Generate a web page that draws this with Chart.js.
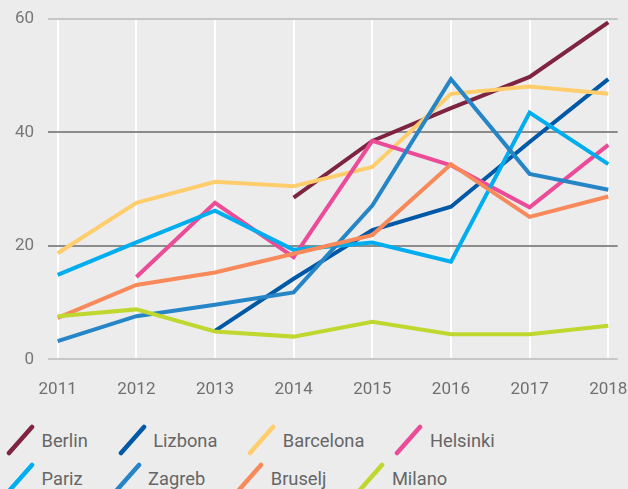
<!DOCTYPE html>
<html>
<head>
<meta charset="utf-8">
<script src="https://cdn.jsdelivr.net/npm/chart.js@4/dist/chart.umd.min.js"></script>
<style>
  html, body { margin: 0; padding: 0; background: #ececec; }
  body { width: 628px; height: 489px; position: relative; overflow: hidden; font-family: Roboto, sans-serif; }
  #chart-box { position: absolute; left: 0; top: 0; width: 628px; height: 400px; }
  #legend { position: absolute; left: 6px; top: 421px; }
  .row { display: flex; align-items: center; height: 38px; }
  .item { display: flex; align-items: center; margin-right: 30px; font-size: 18.3px; color: #666; }
  .item svg { margin-right: 5.5px; }
</style>
</head>
<body>
<div id="chart-box"><canvas id="my-chart"></canvas></div>
<div id="legend"></div>
<script>
'use strict';

let years = [2011, 2012, 2013, 2014, 2015, 2016, 2017, 2018];
let yTicks = [0, 20, 40, 60];

let cityNames = ['Berlin', 'Lizbona', 'Barcelona', 'Helsinki', 'Pariz', 'Zagreb', 'Bruselj', 'Milano'];

let berlin = [null, null, null, 28.5, 38.5, 44.3, 49.8, 59.4];
let lizbona = [null, null, 5.0, 14.2, 22.8, 26.9, 38.3, 49.4];
let barcelona = [18.7, 27.6, 31.3, 30.5, 33.9, 46.8, 48.1, 46.8];
let helsinki = [null, 14.5, 27.6, 18.0, 38.5, 34.2, 26.8, 37.8];
let pariz = [14.9, 20.6, 26.2, 19.3, 20.6, 17.2, 43.5, 34.4];
let zagreb = [3.2, 7.6, 9.6, 11.8, 27.1, 49.4, 32.7, 29.9];
let bruselj = [7.3, 13.1, 15.3, 18.6, 21.9, 34.4, 25.1, 28.7];
let milano = [7.6, 8.8, 4.9, 4.0, 6.6, 4.4, 4.4, 5.9];

let cityValues = [berlin, lizbona, barcelona, helsinki, pariz, zagreb, bruselj, milano];
let cityColors = ['#7e2440', '#0058a6', '#ffcd6c', '#ec4b98', '#00aeef', '#2585c7', '#f7895b', '#c0d72f'];

let datasets = [];
for (let i = 0; i < cityNames.length; i++) {
  datasets.push({
    label: cityNames[i],
    data: cityValues[i].map((v, j) => ({ x: years[j], y: v })),
    borderColor: cityColors[i],
    backgroundColor: cityColors[i],
    borderWidth: 4,
    pointRadius: 0,
    tension: 0,
    fill: false,
    // later cities sit on top
    order: cityNames.length - i
  });
}

let canvasElem = document.getElementById('my-chart');

let myObj = {
  type: 'line',
  data: { datasets: datasets },
  options: {
    responsive: true,
    maintainAspectRatio: false,
    animation: false,
    devicePixelRatio: 1,
    layout: { padding: { top: 19, right: 10.3, bottom: 0, left: 0 } },
    plugins: {
      legend: { display: false },
      tooltip: { enabled: false }
    },
    scales: {
      x: {
        type: 'linear',
        min: 2010.877,
        max: 2018.12,
        afterBuildTicks: (scale) => {
          scale.ticks = years.map(y => ({ value: y }));
        },
        afterFit: (scale) => {
          scale.height = 40.7;
          scale.paddingLeft = 0;
          scale.paddingRight = 0;
        },
        border: { display: false },
        grid: { color: '#ffffff', lineWidth: 2, drawTicks: false },
        ticks: {
          autoSkip: false,
          maxRotation: 0,
          padding: 20,
          color: '#707070',
          font: { family: 'Roboto', size: 17 },
          callback: (value) => String(value)
        }
      },
      y: {
        min: 0,
        max: 60,
        afterBuildTicks: (scale) => {
          scale.ticks = yTicks.map(v => ({ value: v }));
        },
        afterFit: (scale) => {
          scale.width = 48;
          scale.paddingTop = 0;
          scale.paddingBottom = 0;
        },
        border: { display: false },
        grid: {
          drawTicks: false,
          lineWidth: 2,
          color: (ctx) => (ctx.tick && (ctx.tick.value === 20 || ctx.tick.value === 40)) ? '#8c8c8c' : '#c6c6c6'
        },
        ticks: {
          padding: 14,
          color: '#777777',
          font: { family: 'Roboto', size: 17 }
        }
      }
    }
  }
};

new Chart(canvasElem, myObj);

// legend: two rows of four, slanted stroke + name
let legendElem = document.getElementById('legend');
for (let r = 0; r < 2; r++) {
  let rowElem = document.createElement('div');
  rowElem.className = 'row';
  for (let i = r * 4; i < r * 4 + 4; i++) {
    let itemElem = document.createElement('div');
    itemElem.className = 'item';
    itemElem.innerHTML =
      `<svg width="30" height="32" viewBox="0 0 30 32">` +
      `<line x1="3" y1="29" x2="26" y2="3" stroke="${cityColors[i]}" stroke-width="4.5" stroke-linecap="round"/></svg>` +
      `<span>${cityNames[i]}</span>`;
    rowElem.appendChild(itemElem);
  }
  legendElem.appendChild(rowElem);
}
</script>
</body>
</html>
